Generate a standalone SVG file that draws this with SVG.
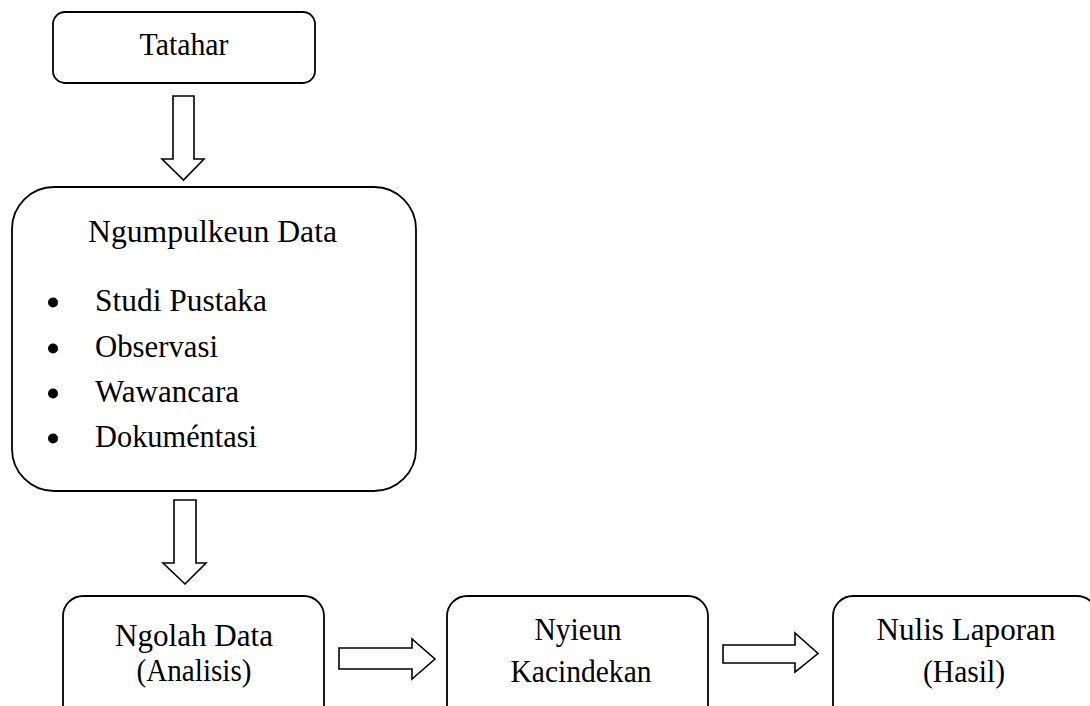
<svg xmlns="http://www.w3.org/2000/svg" width="1090" height="706" viewBox="0 0 1090 706">
<style>
.box{fill:#fff;stroke:#000;stroke-width:1.8}
.arr{fill:#fff;stroke:#000;stroke-width:1.6;stroke-linejoin:miter}
text{font-family:'Liberation Serif','Times New Roman',serif;font-size:32px;fill:#000}
.c{text-anchor:middle}
</style>
<rect width="1090" height="706" fill="#fff"/>
<g id="connectors">
<polygon class="arr" points="173,96 194,96 194,159 204,159 183.5,180 162,159 173,159"/>
<polygon class="arr" points="174,500 196,500 196,563 206,563 185,584 163,563 174,563"/>
<polygon class="arr" points="339,648 412,648 412,639 435,659 412,679 412,669 339,669"/>
<polygon class="arr" points="723,645 795,645 795,633 818,653.5 795,672 795,663 723,663"/>
</g>
<g id="tatahar">
<rect class="box" x="53" y="12" width="262" height="71" rx="12"/>
<text class="c" x="184" y="55" textLength="89" lengthAdjust="spacingAndGlyphs">Tatahar</text>
</g>
<g id="ngumpulkeun">
<rect class="box" x="12" y="187" width="404" height="304" rx="42"/>
<text x="88" y="242" textLength="249" lengthAdjust="spacingAndGlyphs">Ngumpulkeun Data</text>
<circle cx="53" cy="302.5" r="5"/>
<circle cx="53" cy="348.5" r="5"/>
<circle cx="53" cy="393.5" r="5"/>
<circle cx="53" cy="438.5" r="5"/>
<text x="95" y="311" textLength="172" lengthAdjust="spacingAndGlyphs">Studi Pustaka</text>
<text x="95" y="357" textLength="123" lengthAdjust="spacingAndGlyphs">Observasi</text>
<text x="95" y="402" textLength="144" lengthAdjust="spacingAndGlyphs">Wawancara</text>
<text x="95" y="447" textLength="162" lengthAdjust="spacingAndGlyphs">Dokuméntasi</text>
</g>
<g id="ngolah">
<rect class="box" x="63" y="596" width="261" height="130" rx="20"/>
<text class="c" x="194" y="646" textLength="158" lengthAdjust="spacingAndGlyphs">Ngolah Data</text>
<text class="c" x="194" y="681" textLength="115" lengthAdjust="spacingAndGlyphs">(Analisis)</text>
</g>
<g id="nyieun">
<rect class="box" x="447" y="596" width="261" height="130" rx="20"/>
<text class="c" x="578" y="640" textLength="87" lengthAdjust="spacingAndGlyphs">Nyieun</text>
<text class="c" x="581" y="682" textLength="141" lengthAdjust="spacingAndGlyphs">Kacindekan</text>
</g>
<g id="nulis">
<rect class="box" x="833" y="596" width="264" height="130" rx="20"/>
<text class="c" x="966" y="640" textLength="179" lengthAdjust="spacingAndGlyphs">Nulis Laporan</text>
<text class="c" x="964" y="682" textLength="82" lengthAdjust="spacingAndGlyphs">(Hasil)</text>
</g>
</svg>
